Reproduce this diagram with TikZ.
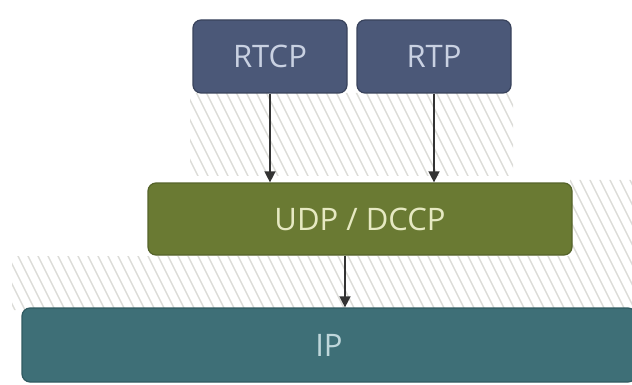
\documentclass[tikz,border=0pt]{standalone}
\usepackage{fontspec}
\setmainfont{Open Sans}
\usetikzlibrary{arrows.meta}

\definecolor{slatefill}{HTML}{4B5878}
\definecolor{slateedge}{HTML}{39435C}
\definecolor{slatetext}{HTML}{C9D1E2}
\definecolor{olivefill}{HTML}{6A7A33}
\definecolor{oliveedge}{HTML}{55632A}
\definecolor{olivetext}{HTML}{E6E9C2}
\definecolor{tealfill}{HTML}{3E6F77}
\definecolor{tealedge}{HTML}{2F5A61}
\definecolor{tealtext}{HTML}{BFD7DB}
\definecolor{hatchgray}{HTML}{DCDCD8}

\tikzset{
  layerbox/.style={rounded corners=8pt, line width=1.2pt, inner sep=0pt,
    font=\fontsize{31}{34}\selectfont},
  protobox/.style={layerbox, draw=slateedge, fill=slatefill, text=slatetext,
    minimum width=154pt, minimum height=73pt},
  transbox/.style={layerbox, draw=oliveedge, fill=olivefill, text=olivetext,
    minimum width=424pt, minimum height=72pt},
  netbox/.style={layerbox, draw=tealedge, fill=tealfill, text=tealtext,
    minimum width=614pt, minimum height=74pt},
  flow/.style={line width=1.4pt, draw=black!80,
    -{Triangle[length=11pt,width=11pt]}},
  hatchline/.style={line width=1.4pt, draw=hatchgray}
}

\begin{document}
\begin{tikzpicture}[x=1pt, y=-1pt]
  \useasboundingbox (0,0) rectangle (632,385);

  % diagonal hatching behind the layers
  \begin{scope}
    \clip (190,93) rectangle (513,176)
          (570,180) rectangle (632,256)
          (12,256) rectangle (632,310);
    \foreach \s in {-200,-190,...,700}
      \draw[hatchline] (\s,60) -- (\s+130,320);
  \end{scope}

  % protocol stack
  \node[protobox] (rtcp) at (270,56.5) {RTCP};
  \node[protobox] (rtp)  at (434,56.5) {RTP};
  \node[transbox] (udp)  at (360,219) {UDP / DCCP};
  \node[netbox]   (ip)   at (329,345) {IP};

  % data flow between layers
  \draw[flow] (rtcp.south) -- (rtcp.south |- udp.north);
  \draw[flow] (rtp.south)  -- (rtp.south |- udp.north);
  \draw[flow] ([xshift=-15pt]udp.south) -- ([xshift=-15pt]udp.south |- ip.north);
\end{tikzpicture}
\end{document}
